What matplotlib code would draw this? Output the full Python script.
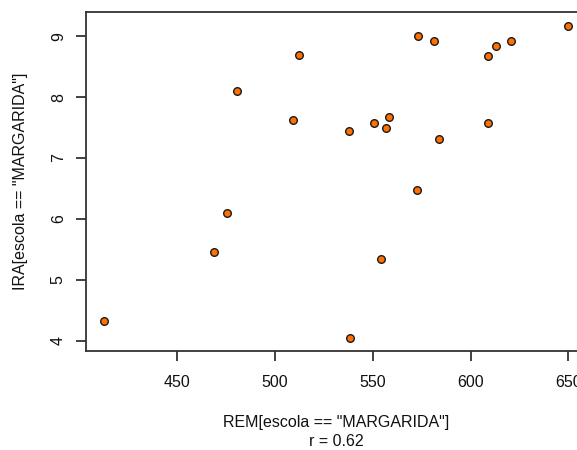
import matplotlib
matplotlib.use('Agg')
import matplotlib.pyplot as plt

# REM vs IRA for escola == "MARGARIDA"
rem = [412.7, 468.9, 475.3, 480.7, 509.2, 512.2, 537.8, 538.4, 550.4, 554.3, 556.7,
       558.2, 572.4, 573.2, 581.1, 583.6, 608.8, 608.8, 612.9, 620.6, 649.9]
ira = [4.32, 5.46, 6.10, 8.10, 7.62, 8.69, 7.45, 4.04, 7.57, 5.34, 7.50,
       7.67, 6.48, 9.00, 8.92, 7.32, 8.67, 7.57, 8.84, 8.92, 9.17]
xticks = [450, 500, 550, 600, 650]
yticks = [4, 5, 6, 7, 8, 9]
r_value = 0.62

plt.rcParams['font.family'] = ['Liberation Sans', 'DejaVu Sans']

fig = plt.figure(figsize=(5.77, 4.5), dpi=100)
# the original is cropped on the right, so the box runs past the edge
ax = fig.add_axes([0.149, 0.2207, 0.868, 0.7533])

ax.scatter(rem, ira, s=30, c='#FF7000', edgecolors='#1a1a1a', linewidths=1.0, zorder=3)

ax.set_xlim(403.3, 659.4)
ax.set_ylim(3.84, 9.40)
ax.set_xticks(xticks)
ax.set_yticks(yticks)
ax.set_xticklabels([str(v) for v in xticks])
ax.set_yticklabels([str(v) for v in yticks])

for sp in ax.spines.values():
    sp.set_color('#333333')
    sp.set_linewidth(1.3)
ax.tick_params(axis='both', direction='out', length=7.5, width=1.3, color='#333333',
               labelsize=11.5, labelcolor='#111111')
ax.tick_params(axis='x', pad=10)
ax.tick_params(axis='y', pad=7, labelrotation=90)
for lab in ax.get_yticklabels():
    lab.set_verticalalignment('center')

ax.set_xlabel('REM[escola == "MARGARIDA"]\nr = %.2f' % r_value, fontsize=11.5,
              color='#111111', linespacing=1.3)
ax.xaxis.set_label_coords(0.5, -0.19)
ax.set_ylabel('IRA[escola == "MARGARIDA"]', fontsize=11.5, color='#111111')
ax.yaxis.set_label_coords(-0.116, 0.5)

plt.savefig('out.png', dpi=100)
